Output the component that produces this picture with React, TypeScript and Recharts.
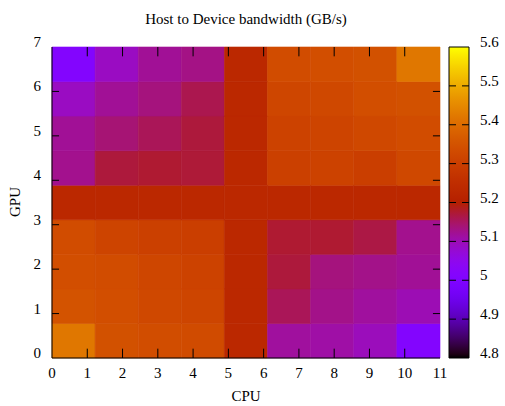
import React from 'react';
import { ComposedChart, XAxis, YAxis, ReferenceArea, ReferenceLine } from 'recharts';

// ---- data ----
const title = 'Host to Device bandwidth (GB/s)';
const xLabel = 'CPU';
const yLabel = 'GPU';
const xTicks = [0, 1, 2, 3, 4, 5, 6, 7, 8, 9, 10, 11];
const yTicks = [0, 1, 2, 3, 4, 5, 6, 7];
const cbTicks = [4.8, 4.9, 5.0, 5.1, 5.2, 5.3, 5.4, 5.5, 5.6];
const xMax = 11;
const yMax = 7;
const cbMin = 4.8;
const cbMax = 5.6;

// bandwidth rows, bottom (row 0) to top (row 8); 9 cells per row
const row0 = [5.42, 5.345, 5.337, 5.333, 5.23, 5.115, 5.11, 5.095, 5.01];
const row1 = [5.35, 5.34, 5.325, 5.318, 5.23, 5.155, 5.128, 5.115, 5.1];
const row2 = [5.34, 5.335, 5.32, 5.31, 5.23, 5.17, 5.135, 5.128, 5.12];
const row3 = [5.335, 5.315, 5.305, 5.3, 5.23, 5.175, 5.175, 5.165, 5.125];
const row4 = [5.23, 5.23, 5.23, 5.23, 5.23, 5.23, 5.23, 5.23, 5.23];
const row5 = [5.125, 5.17, 5.175, 5.172, 5.23, 5.305, 5.31, 5.3, 5.325];
const row6 = [5.12, 5.14, 5.155, 5.17, 5.23, 5.31, 5.315, 5.325, 5.335];
const row7 = [5.09, 5.12, 5.135, 5.16, 5.23, 5.32, 5.325, 5.34, 5.345];
const row8 = [5.01, 5.09, 5.12, 5.13, 5.23, 5.335, 5.34, 5.345, 5.42];
const rows = [row0, row1, row2, row3, row4, row5, row6, row7, row8];

// ---- palette (gnuplot rgbformulae 7,5,15) ----
function palette(v: number): string {
  const t = Math.min(1, Math.max(0, (v - cbMin) / (cbMax - cbMin)));
  const r = Math.sqrt(t);
  const g = t * t * t;
  const b = Math.max(0, Math.sin(2 * Math.PI * t));
  const h = (c: number) => Math.round(c * 255);
  return `rgb(${h(r)},${h(g)},${h(b)})`;
}

const FONT = '"Liberation Serif", "Times New Roman", serif';
const FS = 15;
// inward tick lengths, in axis units
const TICK_X = 0.2;
const TICK_Y = 0.21;

const nCols = row0.length;
const nRows = rows.length;
const cells = rows.flatMap((row, ri) =>
  row.map((v, ci) => ({
    x1: (ci * xMax) / nCols,
    x2: ((ci + 1) * xMax) / nCols,
    y1: (ri * yMax) / nRows,
    y2: ((ri + 1) * yMax) / nRows,
    v,
  }))
);

const gradStops = Array.from({ length: 81 }, (_, i) => i / 80);

const BottomTick = (p: any) => (
  <text x={p.x} y={p.y + 20} textAnchor="middle" fontFamily={FONT} fontSize={FS} fill="#000">
    {p.payload.value}
  </text>
);
const LeftTick = (p: any) => (
  <text x={p.x - 11} y={p.y} textAnchor="end" fontFamily={FONT} fontSize={FS} fill="#000">
    {p.payload.value}
  </text>
);
const CbTick = (p: any) => {
  const v = p.payload.value;
  const edge = Math.abs(v - cbMin) < 1e-6 || Math.abs(v - cbMax) < 1e-6;
  return (
    <g>
      {!edge && <line x1={p.x} x2={p.x - 7} y1={p.y} y2={p.y} stroke="#000" strokeWidth={1} />}
      {!edge && <line x1={p.x - 20} x2={p.x - 13} y1={p.y} y2={p.y} stroke="#000" strokeWidth={1} />}
      <text x={p.x + 11} y={p.y} textAnchor="start" fontFamily={FONT} fontSize={FS} fill="#000">
        {Number(v.toFixed(1)).toString()}
      </text>
    </g>
  );
};

const MAIN_MARGIN = { top: 47, right: 65, bottom: 0, left: 0 };
const CB_MARGIN_TOP = 47;
const CB_MARGIN_BOTTOM = 48;

function mainAxes(visible: boolean) {
  return [
    <XAxis
      key="xb"
      type="number"
      dataKey="x"
      domain={[0, xMax]}
      ticks={xTicks}
      interval={0}
      allowDataOverflow
      height={48}
      tickSize={0}
      tickMargin={0}
      tickLine={false}
      axisLine={visible ? { stroke: '#000' } : false}
      tick={visible ? BottomTick : false}
    />,
    <XAxis
      key="xt"
      xAxisId="top"
      orientation="top"
      type="number"
      domain={[0, xMax]}
      ticks={xTicks}
      allowDataOverflow
      height={0}
      tickLine={false}
      axisLine={visible ? { stroke: '#000' } : false}
      tick={false}
    />,
    <YAxis
      key="yl"
      type="number"
      dataKey="y"
      domain={[0, yMax]}
      ticks={yTicks}
      interval={0}
      allowDataOverflow
      width={52}
      tickSize={0}
      tickMargin={0}
      tickLine={false}
      axisLine={visible ? { stroke: '#000' } : false}
      tick={visible ? LeftTick : false}
    />,
    <YAxis
      key="yr"
      yAxisId="right"
      orientation="right"
      type="number"
      domain={[0, yMax]}
      ticks={yTicks}
      allowDataOverflow
      width={0}
      tickLine={false}
      axisLine={visible ? { stroke: '#000' } : false}
      tick={false}
    />,
  ];
}

const innerX = xTicks.filter((t) => t > 0 && t < xMax);
const innerY = yTicks.filter((t) => t > 0 && t < yMax);

export default function App() {
  return (
    <div style={{ position: 'absolute', left: 0, top: 0, width: 505, height: 406, background: '#fff' }}>
      {/* heatmap cells */}
      <div style={{ position: 'absolute', left: 0, top: 0 }}>
        <ComposedChart width={505} height={406} data={[]} margin={MAIN_MARGIN}>
          {mainAxes(false)}
          {cells.map((c, i) => (
            <ReferenceArea
              key={i}
              x1={c.x1}
              x2={c.x2}
              y1={c.y1}
              y2={c.y2}
              fill={palette(c.v)}
              fillOpacity={1}
              stroke={palette(c.v)}
              strokeWidth={0.6}
            />
          ))}
        </ComposedChart>
      </div>
      {/* colorbar */}
      <div style={{ position: 'absolute', left: 0, top: 0 }}>
        <ComposedChart
          width={505}
          height={406}
          data={[]}
          margin={{ top: CB_MARGIN_TOP, right: 36, bottom: CB_MARGIN_BOTTOM, left: 449 }}
        >
          <defs>
            <linearGradient id="cbGrad" x1="0" y1="1" x2="0" y2="0">
              {gradStops.map((t, i) => (
                <stop key={i} offset={t} stopColor={palette(cbMin + t * (cbMax - cbMin))} />
              ))}
            </linearGradient>
          </defs>
          <XAxis type="number" dataKey="x" domain={[0, 1]} hide allowDataOverflow />
          <YAxis type="number" dataKey="y" domain={[cbMin, cbMax]} hide allowDataOverflow />
          <ReferenceArea
            x1={0}
            x2={1}
            y1={cbMin}
            y2={cbMax}
            fill="url(#cbGrad)"
            fillOpacity={1}
            stroke="#000"
            strokeWidth={1}
          />
        </ComposedChart>
      </div>
      {/* colorbar axis overlay */}
      <div style={{ position: 'absolute', left: 0, top: 0 }}>
        <ComposedChart
          width={505}
          height={406}
          data={[]}
          margin={{ top: CB_MARGIN_TOP, right: 0, bottom: CB_MARGIN_BOTTOM, left: 449 }}
        >
          <XAxis type="number" dataKey="x" domain={[0, 1]} hide allowDataOverflow />
          <YAxis
            orientation="right"
            type="number"
            dataKey="y"
            domain={[cbMin, cbMax]}
            ticks={cbTicks}
            interval={0}
            allowDataOverflow
            width={36}
            tickSize={0}
            tickMargin={0}
            tickLine={false}
            axisLine={false}
            tick={CbTick}
          />
        </ComposedChart>
      </div>
      {/* main axes overlay (ticks drawn over the cells) */}
      <div style={{ position: 'absolute', left: 0, top: 0 }}>
        <ComposedChart width={505} height={406} data={[]} margin={MAIN_MARGIN}>
          {mainAxes(true)}
          {innerX.map((t) => (
            <ReferenceLine
              key={`xb${t}`}
              segment={[
                { x: t, y: 0 },
                { x: t, y: TICK_Y },
              ]}
              stroke="#000"
              strokeWidth={1}
            />
          ))}
          {innerX.map((t) => (
            <ReferenceLine
              key={`xt${t}`}
              segment={[
                { x: t, y: yMax },
                { x: t, y: yMax - TICK_Y },
              ]}
              stroke="#000"
              strokeWidth={1}
            />
          ))}
          {innerY.map((t) => (
            <ReferenceLine
              key={`yl${t}`}
              segment={[
                { x: 0, y: t },
                { x: TICK_X, y: t },
              ]}
              stroke="#000"
              strokeWidth={1}
            />
          ))}
          {innerY.map((t) => (
            <ReferenceLine
              key={`yr${t}`}
              segment={[
                { x: xMax, y: t },
                { x: xMax - TICK_X, y: t },
              ]}
              stroke="#000"
              strokeWidth={1}
            />
          ))}
        </ComposedChart>
      </div>
      <svg width={505} height={406} style={{ position: 'absolute', left: 0, top: 0, pointerEvents: 'none' }}>
        <text x={246} y={24} textAnchor="middle" fontFamily={FONT} fontSize={FS} fill="#000">
          {title}
        </text>
        <text x={246} y={401} textAnchor="middle" fontFamily={FONT} fontSize={FS} fill="#000">
          {xLabel}
        </text>
        <text
          x={20}
          y={202}
          textAnchor="middle"
          fontFamily={FONT}
          fontSize={FS}
          fill="#000"
          transform="rotate(-90 20 202)"
        >
          {yLabel}
        </text>
      </svg>
    </div>
  );
}
